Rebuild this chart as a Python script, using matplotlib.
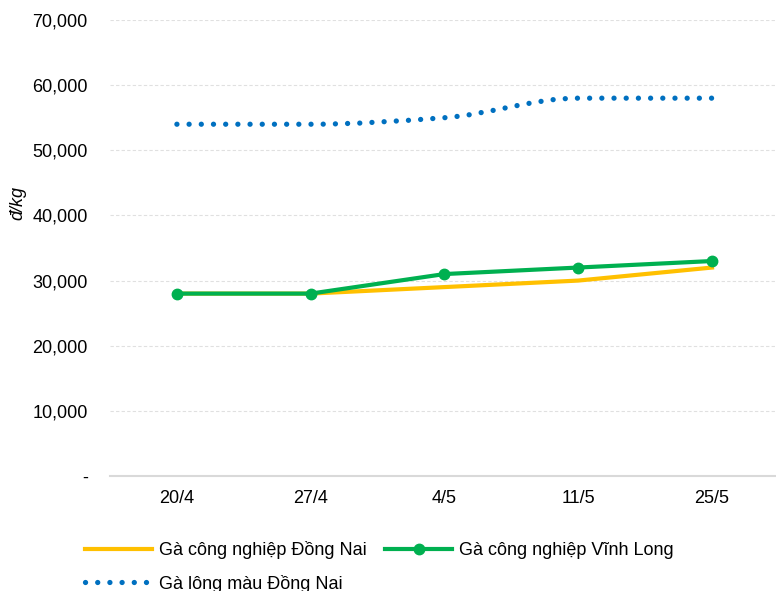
import matplotlib.pyplot as plt
from matplotlib.path import Path
from matplotlib.patches import PathPatch
from matplotlib.lines import Line2D
from matplotlib.ticker import FuncFormatter

plt.rcParams['font.family'] = ['Liberation Sans', 'DejaVu Sans']

# dữ liệu
ngay = ['20/4', '27/4', '4/5', '11/5', '25/5']
cn_dong_nai = [28000, 28000, 29000, 30000, 32000]
cn_vinh_long = [28000, 28000, 31000, 32000, 33000]
long_mau_dong_nai = [54000, 54000, 55000, 58000, 58000]
ten = ['Gà công nghiệp Đồng Nai', 'Gà công nghiệp Vĩnh Long', 'Gà lông màu Đồng Nai']

mau_vang = '#ffc000'
mau_xanh_la = '#00b050'
mau_xanh_duong = '#0070c0'
cham = (0, (0.01, 2.3))  # kiểu chấm tròn

fig = plt.figure(figsize=(7.76, 5.91), dpi=100)
ax = fig.add_axes([110/776, 1-476/591, 0.862, (476-20)/591])

x = list(range(len(ngay)))

# đường cong mượt (tiếp tuyến đơn điệu) cho gà lông màu
y = long_mau_dong_nai
n = len(x)
doc = [(y[i+1]-y[i])/(x[i+1]-x[i]) for i in range(n-1)]
tt = [doc[0]] + [0.0]*(n-2) + [doc[-1]]
for i in range(1, n-1):
    if doc[i-1]*doc[i] > 0:
        tt[i] = 2/(1/doc[i-1] + 1/doc[i])
verts = [(x[0], y[0])]
codes = [Path.MOVETO]
for i in range(n-1):
    h = (x[i+1]-x[i])/3
    verts += [(x[i]+h, y[i]+tt[i]*h), (x[i+1]-h, y[i+1]-tt[i+1]*h), (x[i+1], y[i+1])]
    codes += [Path.CURVE4]*3
ax.add_patch(PathPatch(Path(verts, codes), fill=False, edgecolor=mau_xanh_duong,
                       linewidth=3.8, linestyle=cham, capstyle='round', zorder=3))

ax.plot(x, cn_dong_nai, color=mau_vang, linewidth=3, zorder=4)
ax.plot(x, cn_vinh_long, color=mau_xanh_la, linewidth=3, marker='o', markersize=7.5, zorder=5)

ax.set_xlim(-0.5, 4.5)
ax.set_ylim(0, 70000)
ax.set_yticks(range(0, 70001, 10000))
ax.yaxis.set_major_formatter(FuncFormatter(lambda v, p: '-' if v == 0 else f'{int(v):,}'))
ax.set_xticks(x)
ax.set_xticklabels(ngay)
ax.tick_params(axis='both', length=0, labelsize=13, colors='#000000')
ax.tick_params(axis='y', pad=16)
ax.tick_params(axis='x', pad=10)
ax.grid(axis='y', color='#e0e0e0', linestyle=(0, (3, 2)), linewidth=0.8)
ax.set_axisbelow(True)
for s in ['left', 'right', 'top']:
    ax.spines[s].set_visible(False)
ax.spines['bottom'].set_color('#d9d9d9')
ax.spines['bottom'].set_linewidth(1.5)

fig.text(18/776, 1-203/591, 'đ/kg', rotation=90, style='italic', fontsize=13,
         ha='center', va='center')

h1 = Line2D([], [], color=mau_vang, linewidth=3)
h2 = Line2D([], [], color=mau_xanh_la, linewidth=3, marker='o', markersize=7.5)
h3 = Line2D([], [], color=mau_xanh_duong, linewidth=3.8, linestyle=cham,
            dash_capstyle='round')
fig.legend([h1, h3, h2], [ten[0], ten[2], ten[1]], ncol=2, frameon=False,
           loc='upper left', bbox_to_anchor=(80/776, 1-536/591), fontsize=13,
           handlelength=3.7, handletextpad=0.4, columnspacing=1.0, labelspacing=0.85,
           borderaxespad=0, borderpad=0.3)

fig.savefig('out.png', dpi=100)
